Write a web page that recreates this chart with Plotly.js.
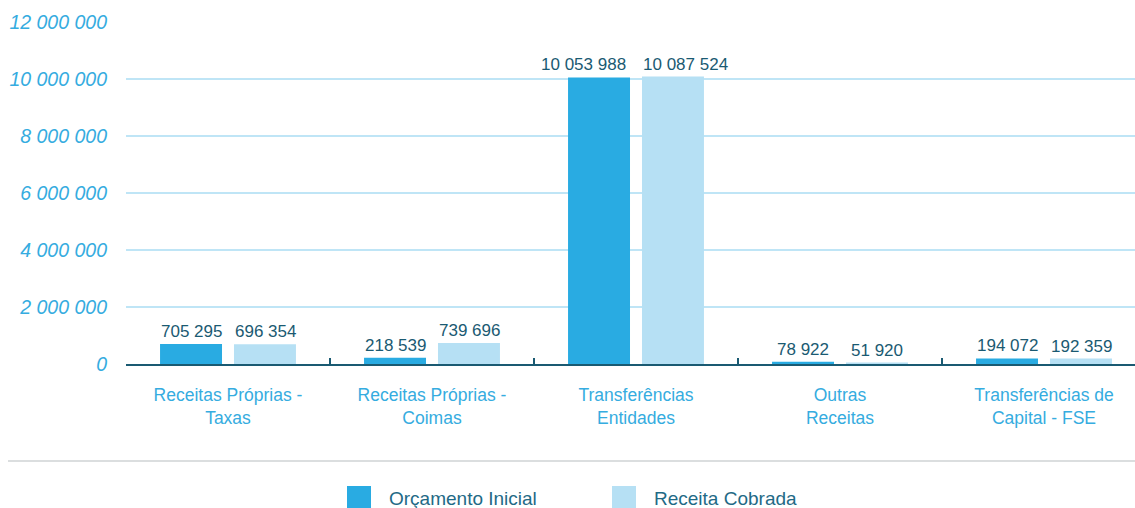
<!DOCTYPE html>
<html>
<head>
<meta charset="utf-8">
<script src="https://cdn.plot.ly/plotly-3.0.1.min.js"></script>
<style>
html,body{margin:0;padding:0;background:#fff;}
#chart{width:1135px;height:508px;}
</style>
</head>
<body>
<div id="chart"></div>
<script>
const categories = [
  "Receitas Próprias -<br>Taxas",
  "Receitas Próprias -<br>Coimas",
  "Transferências<br>Entidades",
  "Outras<br>Receitas",
  "Transferências de<br>Capital - FSE"
];
const seriesNames = ["Orçamento Inicial", "Receita Cobrada"];
const orcamentoInicial = [705295, 218539, 10053988, 78922, 194072];
const receitaCobrada = [696354, 739696, 10087524, 51920, 192359];
const yTickValues = [0, 2000000, 4000000, 6000000, 8000000, 10000000, 12000000];

const colors = ["#29abe2", "#b6e0f4"];
const FONT = "Liberation Sans, Arial, sans-serif";
// horizontal nudges (px) for value labels that would collide (style only)
const labelNudge = [[0, 0], [0, 0], [-16, 12], [0, 0], [0, 0]];

const series = [orcamentoInicial, receitaCobrada];

function barTrace(name, values, color) {
  return {
    type: "bar",
    name: name,
    x: categories,
    y: values,
    marker: {color: color},
    cliponaxis: false,
    hoverinfo: "skip",
    showlegend: false
  };
}

const data = series.map((vals, s) => barTrace(seriesNames[s], vals, colors[s]));

const fmt = v => String(v).replace(/\B(?=(\d{3})+(?!\d))/g, " ");

const L = 126, R = 1135, T = 22, B = 364;
const px = v => (v - L) / (R - L);
const py = v => (B - v) / (B - T);

const annotations = [];
series.forEach((vals, s) => {
  vals.forEach((v, i) => {
    annotations.push({
      xref: "x", yref: "y", x: categories[i], y: v,
      xanchor: "center", yanchor: "bottom",
      xshift: (s === 0 ? -37 : 37) + labelNudge[i][s], yshift: 1,
      text: fmt(v), showarrow: false,
      font: {family: FONT, size: 17, color: "#1a5a72"}
    });
  });
});

const shapes = [
  {type: "line", xref: "paper", yref: "paper", x0: px(8), x1: px(1135), y0: py(461), y1: py(461),
   line: {color: "#cfd3d5", width: 1.5}}
];
// legend drawn as shapes + annotations (paper coords)
const legendItems = [
  {x0: 347, text: seriesNames[0], color: colors[0]},
  {x0: 612, text: seriesNames[1], color: colors[1]}
];
legendItems.forEach(it => {
  shapes.push({type: "rect", xref: "paper", yref: "paper", x0: px(it.x0), x1: px(it.x0 + 24),
    y0: py(486), y1: py(510), fillcolor: it.color, line: {width: 0}});
  annotations.push({xref: "paper", yref: "paper", x: px(it.x0 + 40), y: py(498), xanchor: "left", yanchor: "middle",
    text: it.text, showarrow: false, font: {family: FONT, size: 19, color: "#1f6a86"}});
});

const layout = {
  width: 1135,
  height: 508,
  margin: {l: L, r: 1135 - R, t: T, b: 508 - B, pad: 0},
  paper_bgcolor: "#ffffff",
  plot_bgcolor: "#ffffff",
  separators: ", ",
  barmode: "group",
  bargap: 0.275,
  bargroupgap: 0.162,
  showlegend: false,
  font: {family: FONT},
  xaxis: {
    type: "category",
    range: [-0.5, (R - L) / 204 - 0.5],
    showgrid: false,
    showline: true,
    linecolor: "#1a5a72",
    linewidth: 2,
    ticks: "inside",
    tickson: "boundaries",
    ticklen: 6,
    tickwidth: 1.5,
    tickcolor: "#1a5a72",
    tickfont: {family: FONT, size: 17.5, color: "#35ace0"},
    ticklabelstandoff: 14,
    fixedrange: true
  },
  yaxis: {
    range: [0, 12000000],
    tickvals: yTickValues,
    tickformat: ",.0f",
    showgrid: true,
    gridcolor: "#bfe5f6",
    gridwidth: 1.5,
    zeroline: false,
    showline: false,
    ticks: "",
    ticklabelstandoff: 18,
    tickfont: {family: FONT, size: 19.5, color: "#35ace0", style: "italic"},
    fixedrange: true
  },
  shapes: shapes,
  annotations: annotations
};

Plotly.newPlot("chart", data, layout, {displayModeBar: false, staticPlot: true});
</script>
</body>
</html>
